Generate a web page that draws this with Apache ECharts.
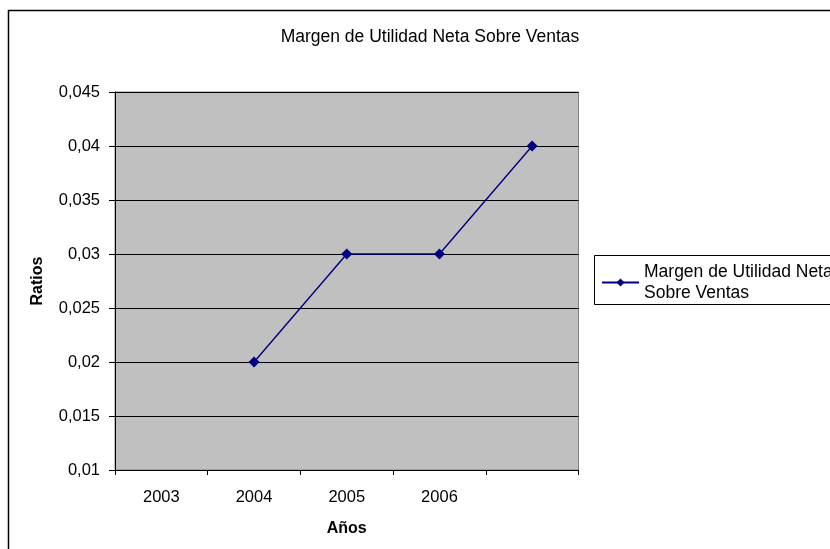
<!DOCTYPE html>
<html>
<head>
<meta charset="utf-8">
<script src="https://cdn.jsdelivr.net/npm/echarts@6/dist/echarts.min.js"></script>
<style>
html,body{margin:0;padding:0;background:#fff;}
#chart{width:830px;height:549px;}
</style>
</head>
<body>
<div id="chart"></div>
<script>
var titleText = 'Margen de Utilidad Neta Sobre Ventas';
var seriesName = 'Margen de Utilidad Neta Sobre Ventas';
var categories = ['2003', '2004', '2005', '2006', ''];
var ratios = [null, 0.02, 0.03, 0.03, 0.04];
var yTickValues = [0.01, 0.015, 0.02, 0.025, 0.03, 0.035, 0.04, 0.045];
var yTickLabels = ['0,01', '0,015', '0,02', '0,025', '0,03', '0,035', '0,04', '0,045'];
var xAxisName = 'Años';
var yAxisName = 'Ratios';

var FONT = '"Liberation Sans", Arial, sans-serif';
var chart = echarts.init(document.getElementById('chart'), null, {renderer: 'canvas'});

function yLabel(v) {
  for (var i = 0; i < yTickValues.length; i++) {
    if (Math.abs(yTickValues[i] - v) < 1e-9) return yTickLabels[i];
  }
  return '';
}

chart.setOption({
  backgroundColor: '#ffffff',
  animation: false,
  title: {
    text: titleText,
    left: 425,
    top: 23,
    textAlign: 'center',
    textStyle: {fontFamily: FONT, fontSize: 17.5, fontWeight: 'normal', color: '#000'}
  },
  graphic: [
    {
      type: 'rect', z: 0,
      shape: {x: 8.5, y: 10.5, width: 900, height: 600},
      style: {fill: 'none', stroke: '#000', lineWidth: 1.5}
    },
    {
      type: 'rect', z: 0,
      shape: {x: 594.5, y: 255.5, width: 300, height: 49},
      style: {fill: '#fff', stroke: '#000', lineWidth: 1}
    }
  ],
  legend: {
    show: true,
    left: 601,
    top: 251,
    padding: 0,
    itemGap: 0,
    itemWidth: 37,
    itemHeight: 10,
    orient: 'vertical',
    formatter: function () { return 'Margen de Utilidad Neta\nSobre Ventas'; },
    textStyle: {fontFamily: FONT, fontSize: 17.5, color: '#000', lineHeight: 21, padding: [21, 0, 0, 0]},
    data: [{name: seriesName}]
  },
  grid: {
    left: 115, top: 92, width: 463.5, height: 378,
    show: true,
    backgroundColor: '#c0c0c0',
    borderColor: '#808080',
    borderWidth: 1
  },
  xAxis: {
    type: 'category',
    data: categories,
    boundaryGap: true,
    name: xAxisName,
    nameLocation: 'middle',
    nameGap: 51,
    nameTextStyle: {fontFamily: FONT, fontSize: 16, fontWeight: 'bold', color: '#000'},
    axisLine: {show: true, lineStyle: {color: '#000', width: 1}},
    axisTick: {show: true, length: 5, alignWithLabel: false, lineStyle: {color: '#000'}},
    axisLabel: {fontFamily: FONT, fontSize: 16.5, color: '#000', margin: 19, interval: 0},
    splitLine: {show: false}
  },
  yAxis: {
    type: 'value',
    min: 0.01,
    max: 0.045,
    interval: 0.005,
    name: yAxisName,
    nameLocation: 'middle',
    nameRotate: 90,
    nameGap: 69,
    nameTextStyle: {fontFamily: FONT, fontSize: 16, fontWeight: 'bold', color: '#000'},
    axisLine: {show: true, lineStyle: {color: '#000', width: 1}},
    axisTick: {show: true, length: 6, lineStyle: {color: '#000'}},
    axisLabel: {fontFamily: FONT, fontSize: 16.5, color: '#000', margin: 15, formatter: yLabel},
    splitLine: {show: true, lineStyle: {color: '#000', width: 1}}
  },
  series: [{
    name: seriesName,
    type: 'line',
    data: ratios,
    connectNulls: false,
    symbol: 'diamond',
    symbolSize: 11,
    showSymbol: true,
    lineStyle: {color: '#000080', width: 1.4},
    itemStyle: {color: '#000080'},
    z: 5
  }]
});
</script>
</body>
</html>
